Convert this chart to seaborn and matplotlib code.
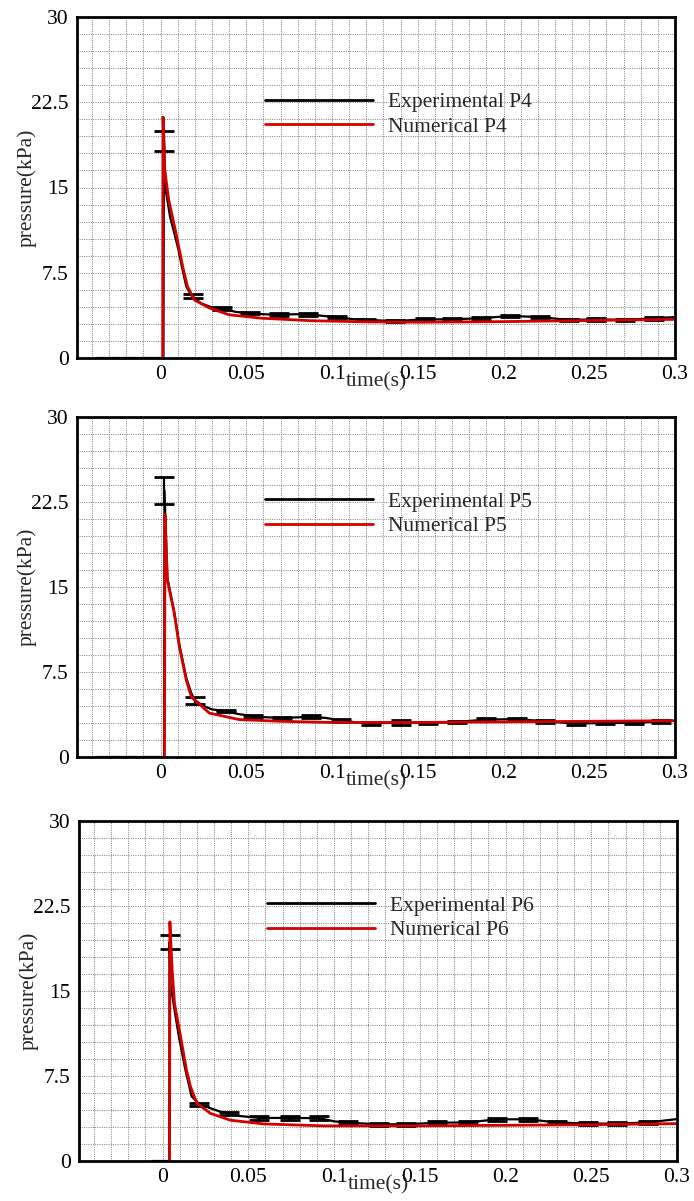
import numpy as np
import pandas as pd
import matplotlib
matplotlib.use("Agg")
import matplotlib.pyplot as plt
from matplotlib.ticker import MultipleLocator, FixedLocator, FuncFormatter
import seaborn as sns

# ---- Probe P4 -------------------------------------------------------------
exp_t4 = [-0.037, 0.0017, 0.0020, 0.003, 0.0056, 0.008, 0.0105, 0.0125, 0.015, 0.018,
          0.0237, 0.030, 0.036, 0.044, 0.052, 0.060, 0.069, 0.078, 0.086, 0.095,
          0.103, 0.112, 0.120, 0.137, 0.154, 0.170, 0.187, 0.204, 0.221, 0.238,
          0.254, 0.271, 0.288, 0.300]
exp_p4 = [0.0, 0.0, 19.1, 14.8, 12.4, 11.0, 9.5, 8.0, 6.3, 5.5,
          4.8, 4.45, 4.35, 4.05, 3.95, 3.85, 3.8, 3.85, 3.85, 3.7,
          3.6, 3.42, 3.35, 3.25, 3.4, 3.4, 3.5, 3.7, 3.6, 3.35,
          3.4, 3.35, 3.5, 3.6]
num_t4 = [0.0013, 0.0015, 0.0025, 0.0048, 0.009, 0.013, 0.0157, 0.0198, 0.0285,
          0.040, 0.059, 0.088, 0.12, 0.15, 0.20, 0.25, 0.30]
num_p4 = [0.0, 21.2, 16.5, 13.9, 11.0, 8.0, 6.3, 5.1, 4.4,
          3.8, 3.5, 3.28, 3.18, 3.15, 3.2, 3.3, 3.4]
err_t4 = [0.0020, 0.019, 0.036, 0.052, 0.069, 0.086, 0.103, 0.120, 0.137, 0.154,
          0.170, 0.187, 0.204, 0.221, 0.238, 0.254, 0.271, 0.288]
err_p4 = [19.1, 5.45, 4.35, 3.95, 3.8, 3.85, 3.6, 3.35, 3.25, 3.4,
          3.4, 3.5, 3.7, 3.6, 3.35, 3.4, 3.35, 3.5]
err_d4 = [0.88, 0.15, 0.12, 0.12, 0.12, 0.12, 0.12, 0.12, 0.12, 0.12,
          0.12, 0.12, 0.12, 0.12, 0.12, 0.12, 0.12, 0.12]

# ---- Probe P5 -------------------------------------------------------------
exp_t5 = [-0.037, 0.0021, 0.0023, 0.004, 0.008, 0.011, 0.015, 0.018, 0.020, 0.025,
          0.030, 0.038, 0.045, 0.054, 0.062, 0.071, 0.080, 0.088, 0.096, 0.105,
          0.114, 0.123, 0.140, 0.156, 0.173, 0.190, 0.208, 0.224, 0.242, 0.259,
          0.276, 0.292, 0.300]
exp_p5 = [0.0, 0.0, 23.5, 15.8, 12.8, 9.9, 7.0, 5.6, 5.0, 4.5,
          4.2, 4.05, 3.8, 3.6, 3.5, 3.45, 3.5, 3.55, 3.45, 3.25,
          3.05, 2.95, 3.05, 3.0, 3.1, 3.3, 3.35, 3.15, 2.95, 3.0,
          3.0, 3.15, 3.2]
num_t5 = [0.0023, 0.0026, 0.004, 0.008, 0.011, 0.015, 0.018, 0.0285, 0.046,
          0.070, 0.10, 0.15, 0.20, 0.25, 0.30]
num_p5 = [0.0, 21.4, 15.6, 12.7, 9.7, 6.8, 5.3, 3.87, 3.3,
          3.15, 3.05, 3.05, 3.1, 3.15, 3.2]
err_t5 = [0.0023, 0.020, 0.038, 0.054, 0.071, 0.088, 0.105, 0.123, 0.140, 0.156,
          0.173, 0.190, 0.208, 0.224, 0.242, 0.259, 0.276, 0.292]
err_p5 = [23.5, 5.0, 4.05, 3.6, 3.45, 3.55, 3.25, 2.95, 3.05, 3.0,
          3.1, 3.3, 3.35, 3.15, 2.95, 3.0, 3.0, 3.15]
err_d5 = [1.2, 0.28, 0.12, 0.12, 0.12, 0.12, 0.12, 0.12, 0.22, 0.12,
          0.12, 0.12, 0.12, 0.12, 0.12, 0.12, 0.12, 0.12]

# ---- Probe P6 -------------------------------------------------------------
exp_t6 = [-0.006, 0.0039, 0.0041, 0.0047, 0.0095, 0.0134, 0.017, 0.0215, 0.0337, 0.039,
          0.045, 0.0564, 0.073, 0.0913, 0.100, 0.108, 0.126, 0.142, 0.160, 0.178,
          0.195, 0.213, 0.230, 0.248, 0.265, 0.283, 0.300]
exp_p6 = [0.0, 0.0, 19.3, 15.5, 11.0, 8.0, 5.7, 5.0, 4.35, 4.2,
          3.97, 3.8, 3.8, 3.78, 3.5, 3.38, 3.24, 3.24, 3.38, 3.4,
          3.68, 3.68, 3.4, 3.3, 3.3, 3.4, 3.7]
num_t6 = [0.0041, 0.0043, 0.0056, 0.007, 0.0105, 0.014, 0.0163, 0.020, 0.028,
          0.0395, 0.059, 0.094, 0.15, 0.20, 0.25, 0.30]
num_p6 = [0.0, 21.1, 16.9, 13.9, 11.0, 8.0, 6.56, 5.1, 4.2,
          3.6, 3.27, 3.1, 3.1, 3.15, 3.2, 3.3]
err_t6 = [0.0041, 0.0215, 0.039, 0.0564, 0.0744, 0.0913, 0.108, 0.126, 0.142, 0.160,
          0.178, 0.195, 0.213, 0.230, 0.248, 0.265, 0.283]
err_p6 = [19.3, 5.0, 4.2, 3.8, 3.8, 3.78, 3.38, 3.24, 3.24, 3.38,
          3.4, 3.68, 3.68, 3.4, 3.3, 3.3, 3.4]
err_d6 = [0.6, 0.15, 0.15, 0.15, 0.15, 0.15, 0.15, 0.15, 0.15, 0.15,
          0.15, 0.15, 0.15, 0.15, 0.15, 0.15, 0.15]

probe_names = ["P4", "P5", "P6"]
x_ticks = [0, 0.05, 0.1, 0.15, 0.2, 0.25, 0.3]
y_ticks = [0, 7.5, 15, 22.5, 30]

sns.set_theme(style="white")
plt.rcParams["font.family"] = ["Liberation Serif", "DejaVu Serif"]

FS = 15.5
W, H = 694, 1201
fig = plt.figure(figsize=(W / 100, H / 100), dpi=100)

# panel boxes in pixels: left, top, right, bottom
boxes = [(77, 17, 675, 358), (77, 417, 675, 757), (79, 821, 677, 1161)]

datasets = [
    (exp_t4, exp_p4, num_t4, num_p4, err_t4, err_p4, err_d4),
    (exp_t5, exp_p5, num_t5, num_p5, err_t5, err_p5, err_d5),
    (exp_t6, exp_p6, num_t6, num_p6, err_t6, err_p6, err_d6),
]


def fmt_x(v, pos):
    s = f"{v:.2f}".rstrip("0").rstrip(".")
    return "0" if s in ("0", "-0") else s


def fmt_y(v, pos):
    return f"{v:g}"


for (l, t, r, b), name, (et, ep, nt, np_, rt, rp, rd) in zip(boxes, probe_names, datasets):
    ax = fig.add_axes([l / W, 1 - b / H, (r - l) / W, (b - t) / H])
    ax.set_xlim(-0.0487, 0.3)
    ax.set_ylim(0, 30)

    exp_df = pd.DataFrame({"time": et, "pressure": ep})
    num_df = pd.DataFrame({"time": nt, "pressure": np_})

    sns.lineplot(data=exp_df, x="time", y="pressure", ax=ax, color="black",
                 lw=1.6, sort=False, estimator=None,
                 label=f"Experimental {name}", zorder=3)
    ax.errorbar(rt, rp, yerr=rd, fmt="none", ecolor="black", elinewidth=1.6,
                capsize=7.5, capthick=2.0, zorder=3)
    sns.lineplot(data=num_df, x="time", y="pressure", ax=ax, color="#d40000",
                 lw=2.0, sort=False, estimator=None,
                 label=f"Numerical {name}", zorder=4)

    # dotted grid on every minor step
    ax.xaxis.set_major_locator(FixedLocator(x_ticks))
    ax.yaxis.set_major_locator(FixedLocator(y_ticks))
    ax.xaxis.set_minor_locator(MultipleLocator(0.01))
    ax.yaxis.set_minor_locator(MultipleLocator(1.5))
    ax.grid(True, which="both", linestyle=(0, (1, 1.3)), color="0.5", lw=0.7)
    ax.set_axisbelow(True)

    ax.xaxis.set_major_formatter(FuncFormatter(fmt_x))
    ax.yaxis.set_major_formatter(FuncFormatter(fmt_y))
    ax.tick_params(which="major", direction="in", length=7.5, width=1.8,
                   labelsize=FS, colors="black", pad=6)
    ax.tick_params(which="minor", length=0)
    ax.tick_params(axis="x", pad=5)

    for sp in ax.spines.values():
        sp.set_linewidth(2.0)
        sp.set_color("black")
        sp.set_zorder(6)

    ax.set_xlabel("time(s)", fontsize=FS, labelpad=0)
    ax.set_ylabel("pressure(kPa)", fontsize=FS, labelpad=0)
    ax.xaxis.set_label_coords(0.5, -24 / (b - t))
    ax.xaxis.label.set_va("center")
    ax.yaxis.set_label_coords(-50 / (r - l), 0.5)
    ax.yaxis.label.set_va("center")

    leg = ax.legend(loc="upper left", bbox_to_anchor=(0.3, 0.805), frameon=False,
                    fontsize=FS, handlelength=5.0, handletextpad=0.7,
                    labelspacing=0.2, borderaxespad=0)
    for h in leg.get_lines():
        h.set_linewidth(2.0)

fig.savefig("out.png", dpi=100)
